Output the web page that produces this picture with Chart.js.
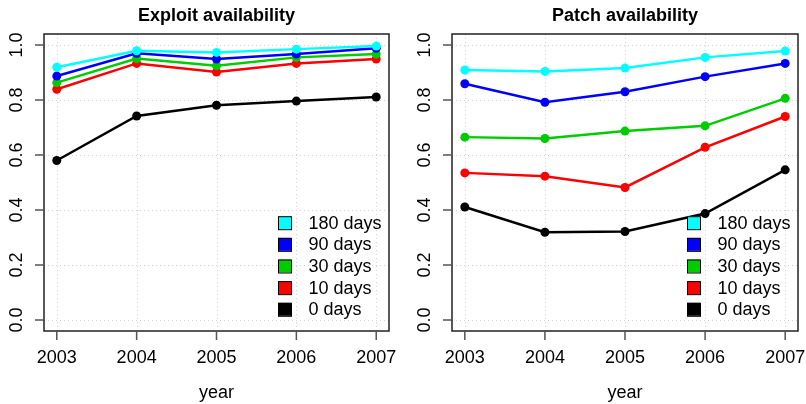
<!DOCTYPE html>
<html>
<head>
<meta charset="utf-8">
<script src="https://cdn.jsdelivr.net/npm/chart.js@4.4.1/dist/chart.umd.min.js"></script>
<style>
  body { margin: 0; background: #fff; }
  .wrap { display: flex; width: 806px; height: 404px; }
  .panel { width: 403px; height: 404px; }
</style>
</head>
<body>
<div class="wrap">
  <div class="panel"><canvas id="exploit" width="403" height="404"></canvas></div>
  <div class="panel"><canvas id="patch" width="403" height="404"></canvas></div>
</div>
<script>
// data
const years = [2003, 2004, 2005, 2006, 2007];
const yTicks = [0, 0.2, 0.4, 0.6, 0.8, 1.0];
const seriesNames = ['180 days', '90 days', '30 days', '10 days', '0 days'];
const seriesColors = ['#00ffff', '#0000ff', '#00cd00', '#ff0000', '#000000'];

const exploit180 = [0.919, 0.979, 0.973, 0.985, 0.996];
const exploit90  = [0.887, 0.970, 0.949, 0.967, 0.988];
const exploit30  = [0.863, 0.951, 0.925, 0.955, 0.967];
const exploit10  = [0.839, 0.933, 0.902, 0.933, 0.949];
const exploit0   = [0.580, 0.742, 0.781, 0.796, 0.811];

const patch180 = [0.909, 0.904, 0.916, 0.955, 0.978];
const patch90  = [0.859, 0.792, 0.830, 0.885, 0.933];
const patch30  = [0.665, 0.660, 0.687, 0.706, 0.806];
const patch10  = [0.535, 0.523, 0.482, 0.628, 0.740];
const patch0   = [0.411, 0.319, 0.322, 0.387, 0.546];

const FONT = '"Liberation Sans", Arial, Helvetica, sans-serif';

// R style frame: dotted grid, box, outside ticks, rotated y labels, title, legend
const rStyle = {
  id: 'rStyle',
  beforeDatasetsDraw(chart) {
    const {ctx, chartArea: a, scales: {x, y}} = chart;
    ctx.save();
    ctx.strokeStyle = '#d3d3d3';
    ctx.lineWidth = 1;
    ctx.setLineDash([1, 3]);
    years.forEach(v => {
      const px = Math.round(x.getPixelForValue(v)) + 0.5;
      ctx.beginPath(); ctx.moveTo(px, a.top); ctx.lineTo(px, a.bottom); ctx.stroke();
    });
    yTicks.forEach(v => {
      const py = Math.round(y.getPixelForValue(v)) + 0.5;
      ctx.beginPath(); ctx.moveTo(a.left, py); ctx.lineTo(a.right, py); ctx.stroke();
    });
    ctx.restore();
  },
  afterDraw(chart, args, opts) {
    const {ctx, chartArea: a, scales: {x, y}} = chart;
    ctx.save();
    // box
    ctx.strokeStyle = '#222';
    ctx.lineWidth = 1.5;
    ctx.strokeRect(a.left, a.top, a.right - a.left, a.bottom - a.top);
    // ticks
    ctx.strokeStyle = '#555';
    ctx.lineWidth = 1.5;
    ctx.fillStyle = '#000';
    ctx.font = '18px ' + FONT;
    ctx.textAlign = 'center';
    ctx.textBaseline = 'middle';
    years.forEach(v => {
      const px = x.getPixelForValue(v);
      ctx.beginPath(); ctx.moveTo(px, a.bottom); ctx.lineTo(px, a.bottom + 9); ctx.stroke();
      ctx.fillText(String(v), px, a.bottom + 27);
    });
    yTicks.forEach(v => {
      const py = y.getPixelForValue(v);
      ctx.beginPath(); ctx.moveTo(a.left, py); ctx.lineTo(a.left - 9, py); ctx.stroke();
      ctx.save();
      ctx.translate(a.left - 27, py);
      ctx.rotate(-Math.PI / 2);
      ctx.fillText(v.toFixed(1), 0, 0);
      ctx.restore();
    });
    // axis title
    ctx.fillText('year', (a.left + a.right) / 2, a.bottom + 62);
    // main title
    ctx.font = 'bold 18px ' + FONT;
    ctx.fillText(opts.title, (a.left + a.right) / 2, 16);
    // legend, bottom right, no frame
    ctx.font = '18px ' + FONT;
    ctx.textAlign = 'left';
    const ds = chart.data.datasets;
    const step = 21.65;
    const boxX = a.right - 111;
    ds.forEach((d, i) => {
      const cy = a.bottom - 21.7 - (ds.length - 1 - i) * step;
      ctx.fillStyle = d.borderColor;
      ctx.fillRect(boxX, cy - 6.5, 13, 13);
      ctx.strokeStyle = '#000';
      ctx.lineWidth = 1;
      ctx.strokeRect(boxX + 0.5, cy - 6.5 + 0.5, 13, 13);
      ctx.fillStyle = '#000';
      ctx.fillText(d.label, boxX + 30.5, cy + 1);
    });
    ctx.restore();
  }
};

function makeDatasets(lists) {
  return lists.map((vals, i) => ({
    label: seriesNames[i],
    data: years.map((yr, j) => ({x: yr, y: vals[j]})),
    borderColor: seriesColors[i],
    backgroundColor: seriesColors[i],
    borderWidth: 2.5,
    pointRadius: 4.5,
    pointBorderWidth: 0,
    pointHoverRadius: 4.5,
    tension: 0
  }));
}

function makeChart(id, title, lists, pad) {
  return new Chart(document.getElementById(id), {
    type: 'line',
    data: {datasets: makeDatasets(lists)},
    plugins: [rStyle],
    options: {
      responsive: false,
      animation: false,
      layout: {padding: pad},
      scales: {
        x: {type: 'linear', min: 2002.84, max: 2007.16, display: false},
        y: {type: 'linear', min: -0.04, max: 1.04, display: false}
      },
      plugins: {
        legend: {display: false},
        tooltip: {enabled: false},
        rStyle: {title: title}
      }
    }
  });
}

makeChart('exploit', 'Exploit availability',
  [exploit180, exploit90, exploit30, exploit10, exploit0],
  {left: 44, right: 14, top: 34, bottom: 73});
makeChart('patch', 'Patch availability',
  [patch180, patch90, patch30, patch10, patch0],
  {left: 49, right: 8, top: 34, bottom: 73});
</script>
</body>
</html>
